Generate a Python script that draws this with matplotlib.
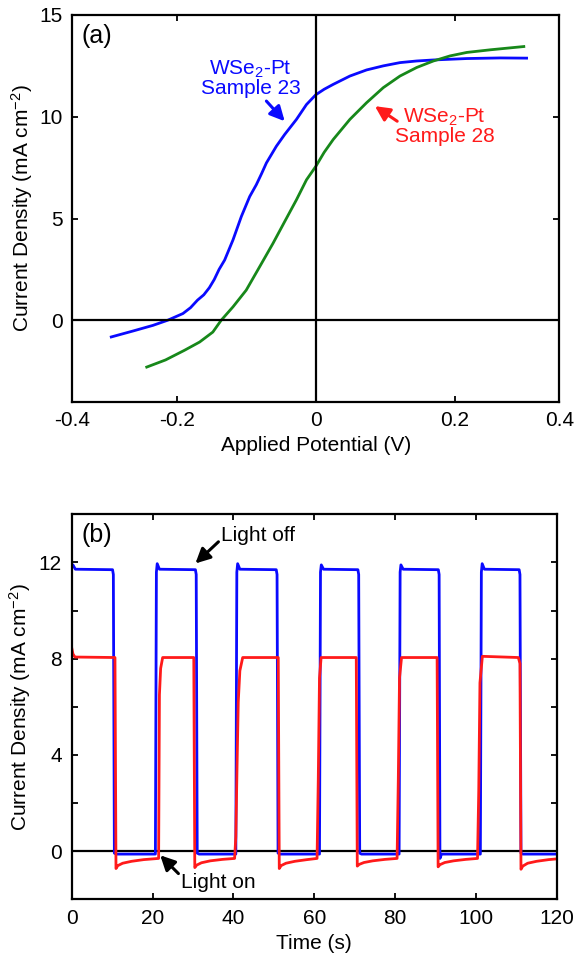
import matplotlib
matplotlib.use("Agg")
import matplotlib.pyplot as plt

plt.rcParams['font.family'] = ['Liberation Sans', 'DejaVu Sans']
plt.rcParams['mathtext.fontset'] = 'custom'
plt.rcParams['mathtext.rm'] = 'Liberation Sans'
plt.rcParams['mathtext.it'] = 'Liberation Sans:italic'
plt.rcParams['mathtext.default'] = 'regular'

# ---------------- Panel (a) data ----------------
v_s23 = [-0.294, -0.263, -0.234, -0.213, -0.191, -0.180, -0.170, -0.161, -0.153,
         -0.146, -0.139, -0.131, -0.119, -0.107, -0.095, -0.0855, -0.078, -0.071,
         -0.0567, -0.0447, -0.0278, -0.0134, 0.0, 0.012, 0.025, 0.049, 0.073,
         0.097, 0.121, 0.145, 0.169, 0.217, 0.265, 0.303]
j_s23 = [-0.82, -0.53, -0.25, 0.0, 0.33, 0.62, 0.99, 1.25, 1.6,
         2.0, 2.5, 2.96, 3.95, 5.1, 6.08, 6.66, 7.2, 7.73,
         8.55, 9.13, 9.87, 10.6, 11.08, 11.35, 11.59, 12.0, 12.3,
         12.5, 12.66, 12.74, 12.79, 12.86, 12.89, 12.88]

v_s28 = [-0.243, -0.216, -0.189, -0.167, -0.148, -0.136, -0.119, -0.100, -0.0807,
         -0.0615, -0.0447, -0.0278, -0.0134, 0.0, 0.012, 0.025, 0.049, 0.073, 0.097,
         0.121, 0.145, 0.169, 0.193, 0.217, 0.251, 0.299]
j_s28 = [-2.3, -1.95, -1.48, -1.07, -0.58, 0.0, 0.66, 1.48, 2.63,
         3.78, 4.85, 5.92, 6.9, 7.56, 8.25, 8.88, 9.87, 10.69, 11.43,
         12.0, 12.42, 12.74, 12.99, 13.16, 13.29, 13.45]

xtick_pos_a = [-0.35, -0.2, 0.0, 0.2, 0.35]
xtick_lab_a = ['-0.4', '-0.2', '0', '0.2', '0.4']
ytick_pos_a = [0, 5, 10, 15]

# ---------------- Panel (b) data ----------------
blue_t = [0.0, 0.3, 0.9, 10.1, 10.3, 10.55, 11.0,
          20.7, 20.95, 21.15, 21.7, 30.6, 30.8, 31.05, 31.5,
          40.6, 40.85, 41.05, 41.6, 50.6, 50.8, 51.05, 51.5,
          61.3, 61.55, 61.75, 62.3, 70.8, 71.0, 71.25, 71.7,
          81.0, 81.25, 81.45, 82.0, 90.7, 90.9, 91.1, 91.5,
          101.1, 101.35, 101.55, 102.1, 110.7, 110.9, 111.15, 111.6,
          120.0]
blue_j = [11.85, 11.9, 11.72, 11.7, 11.5, -0.08, -0.12,
          -0.12, 11.6, 11.95, 11.72, 11.7, 11.5, -0.08, -0.12,
          -0.12, 11.6, 11.95, 11.72, 11.7, 11.5, -0.08, -0.12,
          -0.12, 11.6, 11.9, 11.72, 11.7, 11.5, -0.08, -0.12,
          -0.12, 11.6, 11.9, 11.72, 11.7, 11.5, -0.3, -0.12,
          -0.12, 11.6, 11.95, 11.72, 11.7, 11.5, -0.08, -0.12,
          -0.12]

red_t = [0.0, 0.3, 0.8, 10.7, 10.95, 11.4, 12.6, 14.8, 17.8,
         21.5, 21.7, 22.0, 22.5, 30.2, 30.45, 30.9, 32.1, 34.3, 37.3,
         40.3, 40.6, 40.9, 41.2, 41.6, 42.3, 51.1, 51.35, 51.8, 53.0, 55.2, 58.2,
         60.7, 61.0, 61.3, 61.7, 70.4, 70.65, 71.1, 72.3, 74.5, 77.5,
         80.5, 80.8, 81.1, 81.6, 90.4, 90.65, 91.1, 92.3, 94.5, 97.5,
         100.4, 100.7, 101.0, 101.6, 110.5, 110.9, 111.15, 111.6, 112.8, 115.0, 118.0,
         120.0]
red_j = [8.45, 8.2, 8.07, 8.05, -0.72, -0.6, -0.5, -0.42, -0.35,
         -0.3, 6.5, 7.6, 8.05, 8.05, -0.68, -0.58, -0.48, -0.4, -0.34,
         -0.3, 0.6, 3.5, 6.2, 7.5, 8.05, 8.05, -0.72, -0.6, -0.5, -0.42, -0.35,
         -0.3, 3.0, 7.2, 8.05, 8.05, -0.62, -0.55, -0.47, -0.4, -0.34,
         -0.3, 3.0, 7.2, 8.05, 8.05, -0.65, -0.56, -0.47, -0.4, -0.34,
         -0.3, 2.5, 7.0, 8.1, 8.05, 7.8, -0.75, -0.62, -0.5, -0.42, -0.35,
         -0.32]

xtick_pos_b = [0, 20, 40, 60, 80, 100, 120]
ytick_pos_b = [0, 4, 8, 12]
yminor_pos_b = [2, 6, 10]

# ---------------- Figure ----------------
FS = 15
fig = plt.figure(figsize=(5.77, 9.55), dpi=100)
ax1 = fig.add_axes([0.1253, 0.5794, 0.8440, 0.4049])
ax2 = fig.add_axes([0.1243, 0.0583, 0.8406, 0.4031])

BLUE = '#0a0aff'
GREEN = '#17881a'
RED = '#ff1a1a'

for ax in (ax1, ax2):
    for s in ax.spines.values():
        s.set_linewidth(1.6)
    ax.tick_params(which='both', direction='in', top=True, right=True,
                   length=4, width=1.3, labelsize=FS, pad=7)

# Panel (a)
ax1.axhline(0, color='black', lw=1.6, zorder=3)
ax1.axvline(0, color='black', lw=1.6, zorder=3)
ax1.plot(v_s23, j_s23, color=BLUE, lw=2.0)
ax1.plot(v_s28, j_s28, color=GREEN, lw=2.0)
ax1.set_xlim(-0.35, 0.35)
ax1.set_ylim(-4, 15)
ax1.set_xticks(xtick_pos_a)
ax1.set_xticklabels(xtick_lab_a)
ax1.set_yticks(ytick_pos_a)
ax1.set_xlabel('Applied Potential (V)', fontsize=FS, labelpad=4)
ax1.set_ylabel('Current Density (mA cm$^{-2}$)', fontsize=FS, labelpad=3)
ax1.text(0.019, 0.946, '(a)', transform=ax1.transAxes, fontsize=18,
         ha='left', va='center')
ax1.text(-0.094, 11.9, 'WSe$_2$-Pt\nSample 23', color=BLUE, fontsize=FS,
         ha='center', va='center', linespacing=0.95)
ax1.annotate('', xy=(-0.0447, 9.78), xytext=(-0.071, 10.77),
             arrowprops=dict(arrowstyle='-|>', color=BLUE, lw=2.2,
                             mutation_scale=22, shrinkA=0, shrinkB=0))
ax1.text(0.185, 9.52, 'WSe$_2$-Pt\nSample 28', color=RED, fontsize=FS,
         ha='center', va='center', linespacing=0.95)
ax1.annotate('', xy=(0.085, 10.52), xytext=(0.117, 9.78),
             arrowprops=dict(arrowstyle='-|>', color=RED, lw=2.2,
                             mutation_scale=22, shrinkA=0, shrinkB=0))

# Panel (b)
ax2.axhline(0, color='black', lw=1.6, zorder=1)
ax2.plot(blue_t, blue_j, color=BLUE, lw=2.0, zorder=2)
ax2.plot(red_t, red_j, color=RED, lw=2.0, zorder=2.5)
ax2.set_xlim(0, 120)
ax2.set_ylim(-2, 14)
ax2.set_xticks(xtick_pos_b)
ax2.set_yticks(ytick_pos_b)
ax2.set_yticks(yminor_pos_b, minor=True)
ax2.set_xlabel('Time (s)', fontsize=FS, labelpad=4)
ax2.set_ylabel('Current Density (mA cm$^{-2}$)', fontsize=FS, labelpad=4)
ax2.text(0.021, 0.946, '(b)', transform=ax2.transAxes, fontsize=18,
         ha='left', va='center')
ax2.annotate('', xy=(30.6, 11.96), xytext=(36.3, 12.86),
             arrowprops=dict(arrowstyle='-|>', color='black', lw=2.2,
                             mutation_scale=22, shrinkA=0, shrinkB=0))
ax2.text(37.0, 13.13, 'Light off', fontsize=FS, ha='left', va='center')
ax2.annotate('', xy=(21.9, -0.17), xytext=(26.4, -0.93),
             arrowprops=dict(arrowstyle='-|>', color='black', lw=2.2,
                             mutation_scale=22, shrinkA=0, shrinkB=0))
ax2.text(27.0, -1.28, 'Light on', fontsize=FS, ha='left', va='center')

fig.savefig('out.png', dpi=100)
